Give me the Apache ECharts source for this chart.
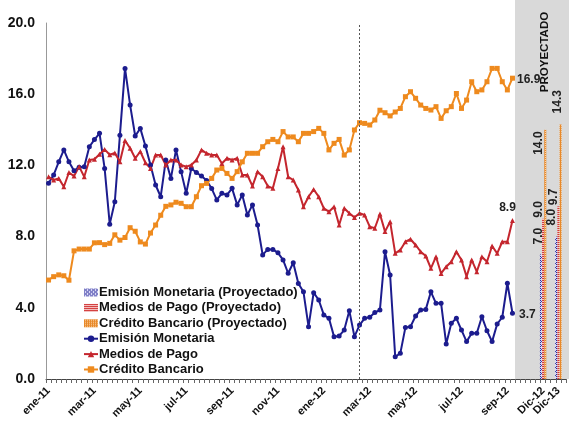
<!DOCTYPE html>
<html><head><meta charset="utf-8">
<script src="https://cdn.jsdelivr.net/npm/echarts@6/dist/echarts.min.js"></script>
<style>html,body{margin:0;padding:0;background:#fff}#c{width:569px;height:436px}</style>
</head><body><div id="c"></div>
<script>
// ---- data ----
const tickLabels = ['ene-11','mar-11','may-11','jul-11','sep-11','nov-11','ene-12','mar-12','may-12','jul-12','sep-12'];
const projLabels = ['Dic-12','Dic-13'];
const emision = [11.0,11.46,12.2,12.87,12.2,11.7,11.9,11.93,13.05,13.45,13.8,11.83,8.7,9.96,13.7,17.45,15.39,13.65,14.08,13.09,12.02,10.9,10.24,12.3,11.27,12.87,11.65,10.43,11.83,11.6,11.4,11.15,10.7,10.06,10.43,10.34,10.71,9.78,10.34,9.21,9.78,8.65,6.97,7.28,7.28,7.09,6.69,5.94,6.53,5.37,4.9,2.94,4.85,4.44,3.6,3.41,2.38,2.42,2.75,3.84,2.38,3.03,3.41,3.47,3.73,3.88,7.15,5.84,1.25,1.44,2.9,2.94,3.54,3.88,3.91,4.9,4.25,4.25,1.97,3.13,3.41,2.75,2.1,2.57,2.57,3.5,2.71,2.1,3.09,3.47,5.38,3.7];
const medios = [11.36,11.18,11.27,10.8,11.6,11.4,11.93,11.36,12.3,12.35,12.63,12.9,12.6,12.7,12.2,13.4,12.96,12.4,12.78,12.15,11.83,12.58,12.58,12.02,12.3,12.3,12.02,11.93,12.02,12.3,12.87,12.68,12.58,12.58,12.11,12.4,12.3,12.4,11.46,11.46,10.84,11.65,11.36,10.84,10.71,11.83,13.05,11.36,11.18,10.62,9.68,10.24,10.65,10.24,9.59,9.4,9.68,8.65,9.59,9.31,9.08,9.31,9.21,8.56,8.47,9.27,8.28,8.84,7.06,7.25,7.71,7.85,7.53,7.15,6.91,6.22,6.87,5.93,6.31,6.59,7.15,6.69,5.75,6.69,6.03,6.87,6.59,7.47,7.06,7.71,7.71,8.9];
const credito = [5.56,5.75,5.85,5.8,5.55,7.2,7.3,7.3,7.3,7.65,7.66,7.55,7.62,8.1,7.8,7.95,8.5,8.3,7.7,7.58,8.2,8.65,9.2,9.7,9.78,9.93,9.87,9.68,9.68,10.24,10.86,10.99,11.27,11.74,11.83,11.55,11.27,11.65,12.2,12.68,12.68,12.68,13.05,13.33,13.46,13.33,13.9,13.6,13.6,13.33,13.8,13.8,13.9,14.08,13.8,12.87,13.24,13.46,12.58,12.87,13.99,14.4,14.36,14.27,14.55,15.1,14.96,14.78,15.0,15.2,15.86,16.14,15.77,15.39,15.2,15.11,15.3,14.64,15.07,15.3,16.04,15.2,15.67,16.7,16.14,16.24,16.7,17.45,17.45,16.7,16.24,16.9];
const emisionProy = [7.0, 8.0];
const mediosProy = [9.0, 9.7];
const creditoProy = [14.0, 14.3];
const names = ['Emisión Monetaria (Proyectado)','Medios de Pago (Proyectado)','Crédito Bancario (Proyectado)','Emisión Monetaria','Medios de Pago','Crédito Bancario'];

// ---- categories (weekly, label every 9th) ----
const nWeeks = emision.length;
const labelEvery = 9;
const categories = [];
for (let i = 0; i < nWeeks; i++) categories.push(i % labelEvery === 0 ? tickLabels[i / labelEvery] : '_s' + i);
const extra = ['_p0','_p1','_p2','_p3','_p4', projLabels[0], '_p6','_p7', projLabels[1], '_p9'];
extra.forEach(c => categories.push(c));

function pattern(draw) {
  const cv = document.createElement('canvas'); cv.width = 4; cv.height = 4;
  const g = cv.getContext('2d'); draw(g); return {image: cv, repeat: 'repeat'};
}
const patEm = pattern(g => { g.fillStyle = '#d8d8f4'; g.fillRect(0,0,4,4); g.fillStyle = '#2b2b9c'; g.fillRect(0,0,1,1); g.fillRect(2,2,1,1); g.fillRect(2,0,1,1); g.fillRect(0,2,1,1); g.fillRect(1,1,1,1); g.fillRect(3,3,1,1);});
const patMe = pattern(g => { g.fillStyle = '#f6c4c4'; g.fillRect(0,0,4,4); g.fillStyle = '#d23a3a'; g.fillRect(0,0,4,1); g.fillRect(0,2,4,1);});
const patCr = pattern(g => { g.fillStyle = '#fbd3a6'; g.fillRect(0,0,4,4); g.fillStyle = '#e8892a'; g.fillRect(0,0,4,1); g.fillRect(0,0,1,4); g.fillRect(0,2,4,1); g.fillRect(2,0,1,4);});

const FONT = 'Liberation Sans, Arial';
const lastIdx = nWeeks - 1;
function endLabel(pos, offset) {
  return {show: true, position: pos, offset: offset, fontWeight: 'bold', fontSize: 12, color: '#222', fontFamily: FONT,
    formatter: p => p.dataIndex === lastIdx ? Number(p.value).toFixed(1) : ''};
}
// label anchor (start of rotated text) relative to each bar's top-left corner: [Dic-12, Dic-13]
const barLabelPos = {em: [[-1, -10], [-3, -11]], me: [[-3.5, -1], [-4, -1]], cr: [[-6, 25], [-2, -11]]};
function barData(vals, pos) {
  return projLabels.map((c, k) => ({value: [c, vals[k]], label: {position: pos[k]}}));
}
const barLabel = {show: true, rotate: 90, align: 'left', verticalAlign: 'middle',
  fontWeight: 'bold', fontSize: 12, color: '#222', fontFamily: FONT, formatter: p => Number(p.value[1]).toFixed(1)};

const chart = echarts.init(document.getElementById('c'), null, {renderer: 'canvas'});
const option = {
  animation: false,
  textStyle: {fontFamily: FONT},
  grid: {left: 46, right: 3, top: 23, bottom: 57, containLabel: false},
  legend: {
    orient: 'vertical', left: 83, top: 285, padding: 0, itemWidth: 14, itemHeight: 8, itemGap: 0.4,
    textStyle: {fontWeight: 'bold', fontSize: 13, color: '#111', lineHeight: 15, padding: [0,0,0,-4]},
    data: [
      {name: names[0], icon: 'rect'}, {name: names[1], icon: 'rect'}, {name: names[2], icon: 'rect'},
      names[3], names[4], names[5]
    ]
  },
  xAxis: {
    type: 'category', data: categories, boundaryGap: true,
    axisLine: {lineStyle: {color: '#444', width: 1}},
    axisTick: {show: true, interval: 0, length: 4, lineStyle: {color: '#666'}},
    axisLabel: {interval: (i, v) => v.charAt(0) !== '_', rotate: 45, fontWeight: 'bold', fontSize: 11, color: '#111', margin: 10,
      hideOverlap: false, showMinLabel: true, showMaxLabel: true}
  },
  yAxis: {
    type: 'value', min: 0, max: 20, interval: 4,
    axisLine: {show: true, lineStyle: {color: '#999'}}, axisTick: {show: false}, splitLine: {show: false},
    axisLabel: {formatter: v => v.toFixed(1), fontWeight: 'bold', fontSize: 14, color: '#111', margin: 11}
  },
  series: [
    {name: names[0], type: 'bar', barWidth: 2, barGap: '10%', itemStyle: {color: patEm}, label: barLabel,
      data: barData(emisionProy, barLabelPos.em)},
    {name: names[1], type: 'bar', barWidth: 2, barGap: '10%', itemStyle: {color: patMe}, label: barLabel,
      data: barData(mediosProy, barLabelPos.me)},
    {name: names[2], type: 'bar', barWidth: 2, barGap: '10%', itemStyle: {color: patCr}, label: barLabel,
      data: barData(creditoProy, barLabelPos.cr)},
    {name: names[3], type: 'line', data: emision, symbol: 'circle', symbolSize: 5, showAllSymbol: true,
      lineStyle: {color: '#1c1c8e', width: 2}, itemStyle: {color: '#1c1c8e'}, label: endLabel('right', [-1, 2])},
    {name: names[4], type: 'line', data: medios, symbol: 'triangle', symbolSize: 5, showAllSymbol: true,
      lineStyle: {color: '#c4262e', width: 2}, itemStyle: {color: '#c4262e'}, label: endLabel('top', [-5, 1])},
    {name: names[5], type: 'line', data: credito, symbol: 'rect', symbolSize: 5, showAllSymbol: true,
      lineStyle: {color: '#ee8a1e', width: 2}, itemStyle: {color: '#ee8a1e'}, label: endLabel('right', [-3, 2]),
      markLine: {silent: true, symbol: 'none', label: {show: false}, lineStyle: {type: [2, 2], color: '#555', width: 1},
        data: [{xAxis: 61.2}]}}
  ]
};
chart.setOption(option);

// projected zone background + title
const xa = chart.convertToPixel({xAxisIndex: 0}, nWeeks - 1);
const xb = chart.convertToPixel({xAxisIndex: 0}, nWeeks);
const y0 = chart.convertToPixel({yAxisIndex: 0}, 0);
const zx = (xa + xb) / 2;
chart.setOption({graphic: [
  {type: 'rect', z: -10, silent: true, shape: {x: zx, y: 0, width: 569 - zx, height: y0}, style: {fill: '#d9d9d9'}},
  {type: 'text', z: 10, silent: true, x: 545, y: 52, rotation: Math.PI / 2,
    style: {text: 'PROYECTADO', font: 'bold 11.5px "Liberation Sans", Arial', fill: '#111', align: 'center', verticalAlign: 'middle'}}
]});
</script></body></html>
